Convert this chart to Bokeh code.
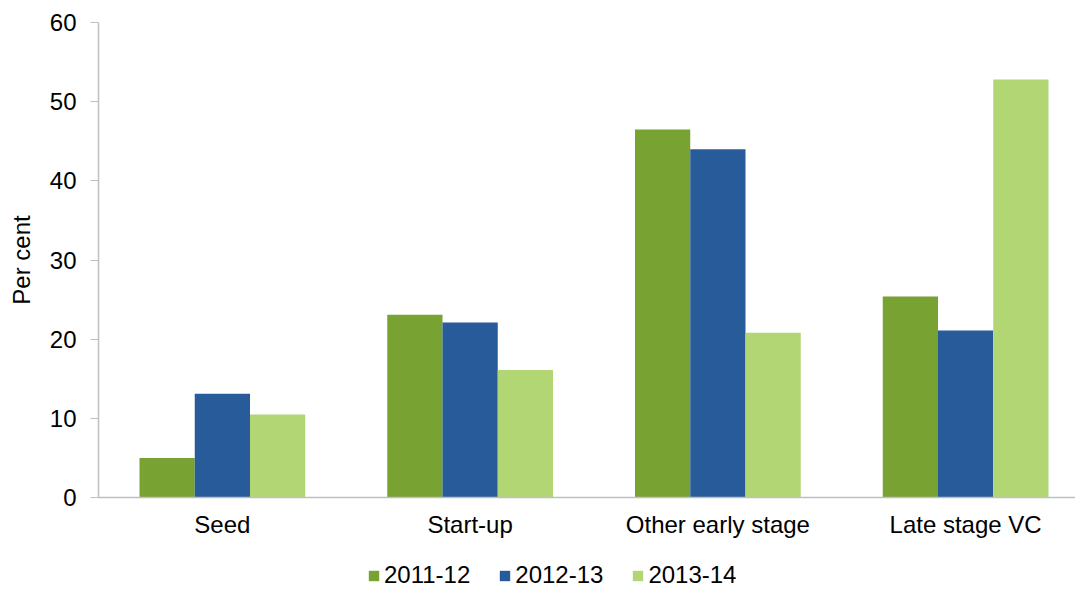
from bokeh.plotting import figure
from bokeh.layouts import column
from bokeh.models import ColumnDataSource, Range1d, FixedTicker, Legend, LegendItem
from bokeh.transform import dodge
from bokeh.embed import file_html
from bokeh.resources import INLINE

categories = ["Seed", "Start-up", "Other early stage", "Late stage VC"]
series_names = ["2011-12", "2012-13", "2013-14"]
v_2011_12 = [5.0, 23.1, 46.5, 25.4]
v_2012_13 = [13.1, 22.1, 44.0, 21.1]
v_2013_14 = [10.5, 16.1, 20.8, 52.8]
colors = ["#78A232", "#275B9A", "#B3D675"]
y_ticks = [0, 10, 20, 30, 40, 50, 60]

idx = list(range(len(categories)))
source = ColumnDataSource(data=dict(x=idx, a=v_2011_12, b=v_2012_13, c=v_2013_14))

FONT = "Liberation Sans"
FS = "24px"

# category axis extends slightly past the right edge, as in the reference
p = figure(x_range=Range1d(-0.5, len(categories) - 0.5 - 0.0565), y_range=Range1d(0, 60),
           width=1075, height=542, output_backend="svg", toolbar_location=None,
           min_border_left=98, min_border_right=0, min_border_top=22, min_border_bottom=45)
p.outline_line_color = None
p.xgrid.grid_line_color = None
p.ygrid.grid_line_color = None

w = 0.223
p.vbar(x=dodge("x", -w), top="a", width=w, source=source, color=colors[0], line_color=None)
p.vbar(x=dodge("x", 0), top="b", width=w, source=source, color=colors[1], line_color=None)
p.vbar(x=dodge("x", w), top="c", width=w, source=source, color=colors[2], line_color=None)

p.xaxis.ticker = FixedTicker(ticks=idx)
p.xaxis.major_label_overrides = {i: c for i, c in zip(idx, categories)}
p.yaxis.ticker = FixedTicker(ticks=y_ticks)
p.yaxis.axis_label = "Per cent"
for ax in (p.xaxis, p.yaxis):
    ax.axis_line_color = "#BFBFBF"
    ax.axis_line_width = 1.5
    ax.major_tick_line_color = "#BFBFBF"
    ax.minor_tick_line_color = None
    ax.major_label_text_font = FONT
    ax.major_label_text_font_size = FS
    ax.major_label_text_color = "#000000"
    ax.axis_label_text_font = FONT
    ax.axis_label_text_font_size = FS
    ax.axis_label_text_font_style = "normal"
    ax.axis_label_text_color = "#000000"
p.yaxis.major_tick_out = 8
p.yaxis.major_tick_in = 0
p.yaxis.major_label_standoff = 14
p.yaxis.axis_label_standoff = 12
p.xaxis.major_tick_out = 0
p.xaxis.major_tick_in = 0
p.xaxis.major_tick_line_color = None
p.xaxis.major_label_standoff = 13

# legend strip below the chart
lg = figure(width=1075, height=47, output_backend="svg", toolbar_location=None,
            x_range=Range1d(0, 1), y_range=Range1d(0, 1), x_axis_type=None, y_axis_type=None,
            min_border=0)
lg.outline_line_color = None
lg.xgrid.grid_line_color = None
lg.ygrid.grid_line_color = None
items = []
for name, col in zip(series_names, colors):
    # off-screen swatch renderer, used only for the legend glyph
    r = lg.vbar(x=[5], top=[5], bottom=[4], width=0.1, color=col, line_color=None)
    items.append(LegendItem(label=name, renderers=[r]))
legend = Legend(items=items, orientation="horizontal", location=(269, 0),
                glyph_width=13, glyph_height=13, label_standoff=4, spacing=28,
                padding=0, margin=0, border_line_color=None, background_fill_alpha=0,
                label_text_font=FONT, label_text_font_size=FS, label_text_color="#000000")
lg.add_layout(legend, "center")

layout = column(p, lg, spacing=0)
open("out.html", "w").write(file_html(layout, INLINE))
